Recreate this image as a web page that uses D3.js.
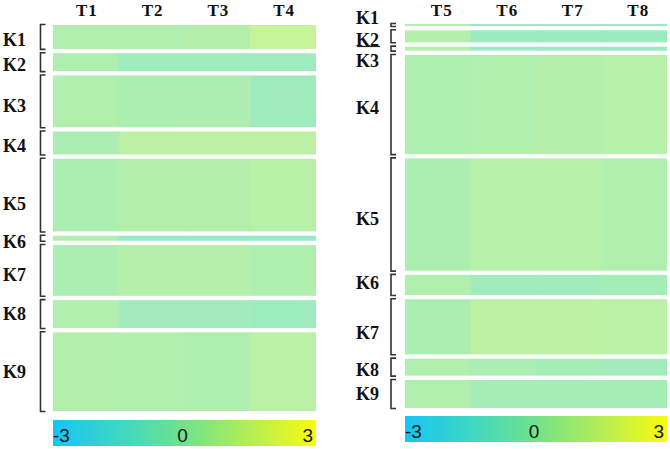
<!DOCTYPE html>
<html>
<head>
<meta charset="utf-8">
<script src="https://cdn.jsdelivr.net/npm/d3@7"></script>
<style>
  body { margin: 0; background: #fff; }
  .rowLab, .colLab { font-family: "Liberation Serif", "Times New Roman", serif; font-weight: bold; fill: #111; }
  .barLab { font-family: "Liberation Sans", Arial, sans-serif; fill: #151515; font-size: 19px; }
</style>
</head>
<body>
<div class="chart"></div>
<script>
// Data
var clusters = ["K1", "K2", "K3", "K4", "K5", "K6", "K7", "K8", "K9"];
var leftTimes = ["T1", "T2", "T3", "T4"];
var rightTimes = ["T5", "T6", "T7", "T8"];

// cluster sizes (rows per cluster)
var leftSizes = [24, 18, 52, 23, 73, 5, 51, 28, 79];
var rightSizes = [2, 12, 4, 99, 112, 20, 55, 17, 28];

// mean z-score per cluster, one column per time point
var leftValues = [
  [0.35, 0.35, 0.45, 1.2],
  [0.3, -0.35, -0.35, -0.3],
  [0.35, 0.2, 0.25, -0.3],
  [0.15, 0.75, 0.75, 0.75],
  [0.2, 0.45, 0.45, 0.65],
  [0.35, -0.7, -0.7, -0.7],
  [0.2, 0.55, 0.55, 0.3],
  [0.35, -0.25, -0.25, -0.4],
  [0.4, 0.35, 0.3, 0.7]
];
var rightValues = [
  [0.35, -0.55, -0.55, -0.55],
  [0.45, -0.45, -0.45, -0.45],
  [0.45, -0.55, -0.55, -0.55],
  [0.3, 0.35, 0.45, 0.6],
  [0.2, 0.6, 0.6, 0.35],
  [0.35, -0.25, -0.25, -0.05],
  [0.2, 0.8, 0.8, 0.7],
  [0.35, 0.15, 0.0, -0.25],
  [0.35, -0.1, -0.1, -0.05]
];
var colorTicks = [-3, 0, 3];

// Layout (label nudges)
var leftNudge = [3, 3, 5, 3.5, 8.5, 4, 5, 0, 0];
var rightNudge = [-6.7, 3.5, 12, 3, 5, -1.5, 6, 3, 0];

var svgWidth = 670;
var svgHeight = 449;
var gap = 4.3;

var svg = d3.select(".chart")
  .append("svg")
  .attr("width", svgWidth)
  .attr("height", svgHeight);

var color = d3.scaleLinear()
  .domain([-3, -1.5, 0, 1.5, 3])
  .range(["#16c4f4", "#3dd8c4", "#72e28a", "#b5ee55", "#fafb0c"]);

// heat cells are a washed-out version of the bar colours
var paleColor = v => d3.interpolateRgb("#ffffff", color(v))(0.63);

// Gradient for the colour bars
var grad = svg.append("defs").append("linearGradient")
  .attr("id", "cbar")
  .attr("x1", "0%").attr("x2", "100%");
d3.range(-3, 3.01, 0.5).forEach(v => {
  grad.append("stop")
    .attr("offset", ((v + 3) / 6 * 100) + "%")
    .attr("stop-color", color(v));
});

function drawPanel(p) {
  var g = svg.append("g");

  var x = d3.scaleBand()
    .domain(p.times)
    .range([p.x0, p.x1]);

  // cumulative row positions
  var total = d3.sum(p.sizes);
  var k = (p.y1 - p.y0 - gap * (p.sizes.length - 1)) / total;
  var y = d3.scaleLinear().domain([0, total]).range([0, total * k]);
  var starts = [];
  var acc = 0;
  p.sizes.forEach((s, i) => {
    starts.push({
      top: p.y0 + y(acc) + i * gap,
      bottom: p.y0 + y(acc + s) + i * gap
    });
    acc += s;
  });

  // Cells
  clusters.forEach((c, i) => {
    g.selectAll(null)
      .data(p.values[i])
      .enter()
      .append("rect")
      .attr("x", (d, j) => x(p.times[j]))
      .attr("y", starts[i].top)
      .attr("width", (d, j) => j < p.times.length - 1 ? x.bandwidth() + 0.6 : x.bandwidth())
      .attr("height", starts[i].bottom - starts[i].top)
      .attr("fill", d => paleColor(d));
  });

  // Brackets
  g.selectAll(".bracket")
    .data(starts)
    .enter()
    .append("path")
    .attr("d", d => `M${p.bx + 5},${d.top - 0.5}H${p.bx}V${d.bottom + 0.5}H${p.bx + 5}`)
    .attr("fill", "none")
    .attr("stroke", "#333")
    .attr("stroke-width", 1.6);

  // Row labels
  g.selectAll(".rowLab")
    .data(clusters)
    .enter()
    .append("text")
    .classed("rowLab", true)
    .attr("x", p.lx)
    .attr("y", (d, i) => (starts[i].top + starts[i].bottom) / 2 + p.nudge[i])
    .attr("dominant-baseline", "central")
    .attr("font-size", 18)
    .text(d => d);

  // Column labels
  g.selectAll(".colLab")
    .data(p.times)
    .enter()
    .append("text")
    .classed("colLab", true)
    .attr("x", d => x(d) + x.bandwidth() / 2 + p.cx)
    .attr("y", 16)
    .attr("text-anchor", "middle")
    .attr("font-size", 17)
    .attr("letter-spacing", 1)
    .text(d => d);

  // Colour bar
  var cx = d3.scaleLinear().domain([-3, 3]).range([p.x0, p.x1]);
  g.append("rect")
    .attr("x", p.x0)
    .attr("y", p.cy)
    .attr("width", p.x1 - p.x0)
    .attr("height", 26)
    .attr("fill", "url(#cbar)");

  g.selectAll(".barLab")
    .data(colorTicks)
    .enter()
    .append("text")
    .classed("barLab", true)
    .attr("x", d => d === -3 ? cx(d) : d === 3 ? cx(d) - 3 : cx(d) - 2)
    .attr("y", p.cy + 22)
    .attr("text-anchor", d => d === -3 ? "start" : d === 3 ? "end" : "middle")
    .text(d => d);

  return starts;
}

drawPanel({
  times: leftTimes, sizes: leftSizes, values: leftValues, nudge: leftNudge,
  x0: 53, x1: 316, y0: 25, y1: 411, bx: 40.5, lx: 3, cx: 1, cy: 420
});

drawPanel({
  times: rightTimes, sizes: rightSizes, values: rightValues, nudge: rightNudge,
  x0: 405, x1: 667, y0: 24, y1: 408, bx: 391, lx: 356, cx: 4, cy: 416
});

// underline under right-hand K2 label
svg.append("line")
  .attr("x1", 357).attr("x2", 380)
  .attr("y1", 46.5).attr("y2", 46.5)
  .attr("stroke", "#222")
  .attr("stroke-width", 1.2);
</script>
</body>
</html>
